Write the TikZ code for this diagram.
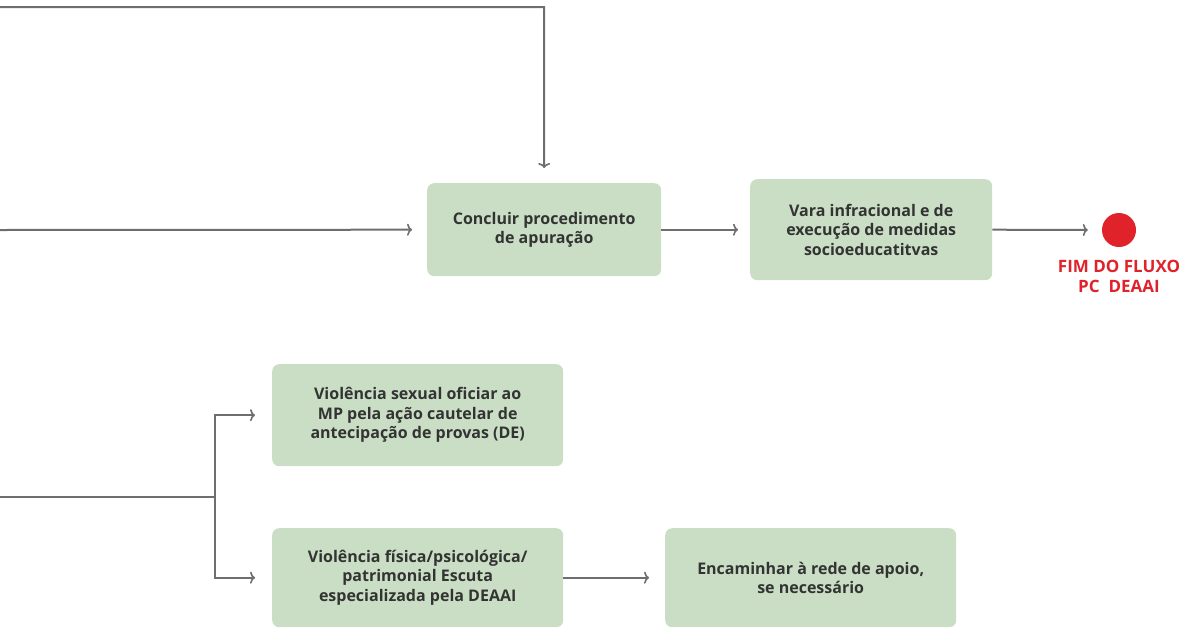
\documentclass[tikz,border=0pt]{standalone}
\usepackage{fontspec}
\setmainfont{Open Sans}
\usetikzlibrary{arrows.meta}
\definecolor{boxfill}{HTML}{C9DEC4}
\definecolor{linegray}{HTML}{6E6E6E}
\definecolor{txtgray}{HTML}{333333}
\definecolor{endred}{HTML}{E0222B}
\begin{document}
\begin{tikzpicture}[x=1pt,y=-1pt,
  stepbox/.style={fill=boxfill, rounded corners=7pt, align=center, text=txtgray,
    font=\fontsize{16}{19.5}\selectfont\bfseries, inner sep=0pt, anchor=north west},
  conn/.style={draw=linegray, line width=2pt, -{To[length=5pt,width=12pt,line width=1.6pt]}},
  plain/.style={draw=linegray, line width=2pt}]
\path[use as bounding box] (0,0) rectangle (1180,627);
% boxes
\node[stepbox, minimum width=234pt, minimum height=93pt] (concl) at (427,183) {Concluir procedimento\\de apuração};
\node[stepbox, minimum width=242pt, minimum height=101pt] (vara) at (750,179) {Vara infracional e de\\execução de medidas\\socioeducatitvas};
\node[stepbox, minimum width=291pt, minimum height=102pt] (sex) at (272,364) {Violência sexual oficiar ao\\MP pela ação cautelar de\\antecipação de provas (DE)};
\node[stepbox, minimum width=291pt, minimum height=99pt] (fis) at (272,528) {Violência física/psicológica/\\patrimonial Escuta\\especializada pela DEAAI};
\node[stepbox, minimum width=291pt, minimum height=99pt] (enc) at (665,528) {Encaminhar à rede de apoio,\\se necessário};
% end
\node[circle, fill=endred, minimum size=34pt, inner sep=0pt] (fim) at (1119,230) {};
\node[text=endred, font=\fontsize{17}{20}\selectfont\bfseries, align=center, anchor=north, inner sep=0pt] (fimtxt) at (1119,260) {FIM DO FLUXO\\PC\ \ DEAAI};
% coordinates
\coordinate (topstart) at (0,7);
\coordinate (topcorner) at (544,7);
\coordinate (midstart) at (0,230);
\coordinate (botstart) at (0,497);
\coordinate (split) at (215,497);
% connectors
\draw[conn] (topstart) -- (topcorner) -- ([yshift=15pt]concl.north);
\draw[conn] (midstart) -- ([xshift=-15pt]concl.west);
\draw[conn] (concl.east) -- ([xshift=-12pt]vara.west);
\draw[conn] (vara.east) -- ([xshift=-14pt]fim.west);
\draw[plain] (botstart) -- (split);
\draw[conn] (split) |- ([xshift=-17pt]sex.west);
\draw[conn] (split) |- ([xshift=-17pt]fis.west);
\draw[conn] (fis.east) -- ([xshift=-16pt]enc.west);
\end{tikzpicture}
\end{document}
